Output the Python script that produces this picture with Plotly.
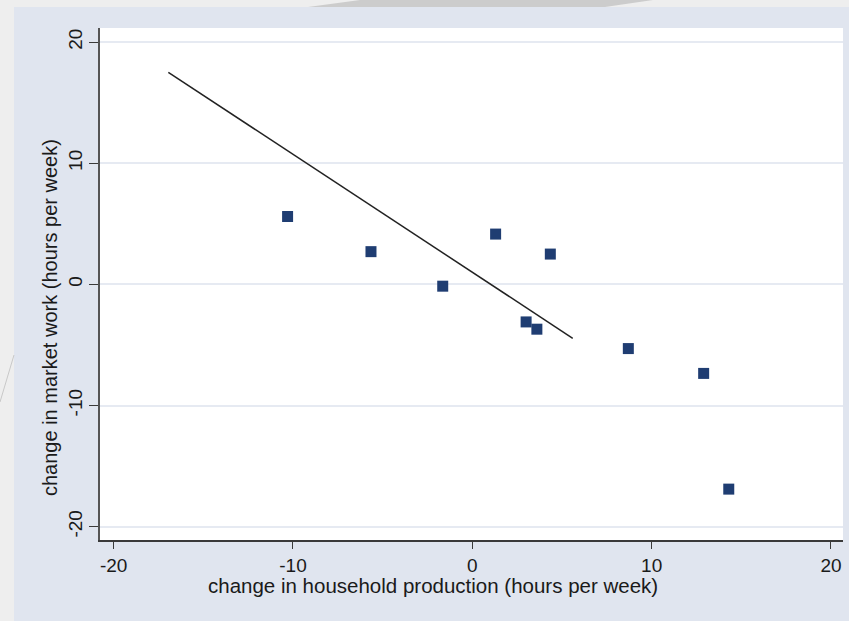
import plotly.graph_objects as go

# Data
hh_production = [-10.3, -5.65, -1.65, 1.3, 4.35, 3.0, 3.6, 8.7, 12.9, 14.3]
market_work = [5.6, 2.7, -0.15, 4.15, 2.5, -3.1, -3.7, -5.3, -7.35, -16.9]

fit_x = [-16.95, 5.6]
fit_y = [17.5, -4.45]

x_ticks = [-20, -10, 0, 10, 20]
y_ticks = [-20, -10, 0, 10, 20]

x_title = "change in household production (hours per week)"
y_title = "change in market work (hours per week)"

W, H = 849, 621
L, R, T, B = 100, 6, 28, 81  # plot area: x 100..843, y 28..540
PW, PH = W - L - R, H - T - B


def px(xp):
    return (xp - L) / PW


def py(yp):
    return (H - B - yp) / PH


fig = go.Figure()

fig.add_trace(go.Scatter(
    x=fit_x, y=fit_y, mode="lines",
    line=dict(color="#222222", width=1.5),
    showlegend=False, hoverinfo="skip",
))

fig.add_trace(go.Scatter(
    x=hh_production, y=market_work, mode="markers",
    marker=dict(symbol="square", size=11, color="#1f3d72",
                line=dict(width=0)),
    showlegend=False,
))

shapes = [
    # outer slide background strips (left and top)
    dict(type="rect", xref="paper", yref="paper",
         x0=px(0), x1=px(14), y0=py(H), y1=py(0),
         fillcolor="#eeeeee", line=dict(width=0), layer="below"),
    dict(type="rect", xref="paper", yref="paper",
         x0=px(0), x1=px(W), y0=py(7), y1=py(0),
         fillcolor="#eeeeee", line=dict(width=0), layer="below"),
    # grey slanted band at top
    dict(type="path", xref="paper", yref="paper",
         path=f"M {px(308)},{py(7)} L {px(360)},{py(0)} L {px(653)},{py(0)} L {px(605)},{py(7)} Z",
         fillcolor="#cccccc", line=dict(width=0), layer="below"),
    # faint diagonal decoration at left
    dict(type="line", xref="paper", yref="paper",
         x0=px(14), y0=py(355), x1=px(0), y1=py(402),
         line=dict(color="#c8c8c8", width=1), layer="below"),
]

annotations = [
    dict(text=x_title, xref="paper", yref="paper",
         x=px(433), y=py(585), xanchor="center", yanchor="middle",
         showarrow=False, font=dict(size=20.5)),
    dict(text=y_title, xref="paper", yref="paper",
         x=px(50), y=py(318), xanchor="center", yanchor="middle",
         textangle=-90, showarrow=False, font=dict(size=20)),
]

font_family = "Liberation Sans, Arial, sans-serif"

fig.update_layout(
    width=W, height=H,
    margin=dict(l=L, r=R, t=T, b=B, pad=0),
    paper_bgcolor="#e0e5ef",
    plot_bgcolor="#ffffff",
    font=dict(family=font_family, size=19, color="#1a1a1a"),
    shapes=shapes,
    annotations=annotations,
    xaxis=dict(
        range=[-20.76, 20.67],
        tickvals=x_ticks, ticktext=[str(v) for v in x_ticks],
        showgrid=False, zeroline=False,
        showline=True, linecolor="#3a3a3a", linewidth=2,
        ticks="outside", ticklen=7, tickwidth=1.3, tickcolor="#3a3a3a",
        tickfont=dict(size=19),
        automargin=False,
    ),
    yaxis=dict(
        range=[-21.1, 21.16],
        tickvals=y_ticks, ticktext=[str(v) for v in y_ticks],
        showgrid=True, gridcolor="#e6eaf2", gridwidth=1.5,
        zeroline=False,
        showline=True, linecolor="#555555", linewidth=1.5,
        ticks="outside", ticklen=9, tickwidth=1.3, tickcolor="#3a3a3a",
        tickangle=-90,
        tickfont=dict(size=19),
        automargin=False,
    ),
)

fig.write_html(
    "out.html",
    config={"displayModeBar": False},
    post_script="document.body.style.margin='0';document.body.style.overflow='hidden';",
)
